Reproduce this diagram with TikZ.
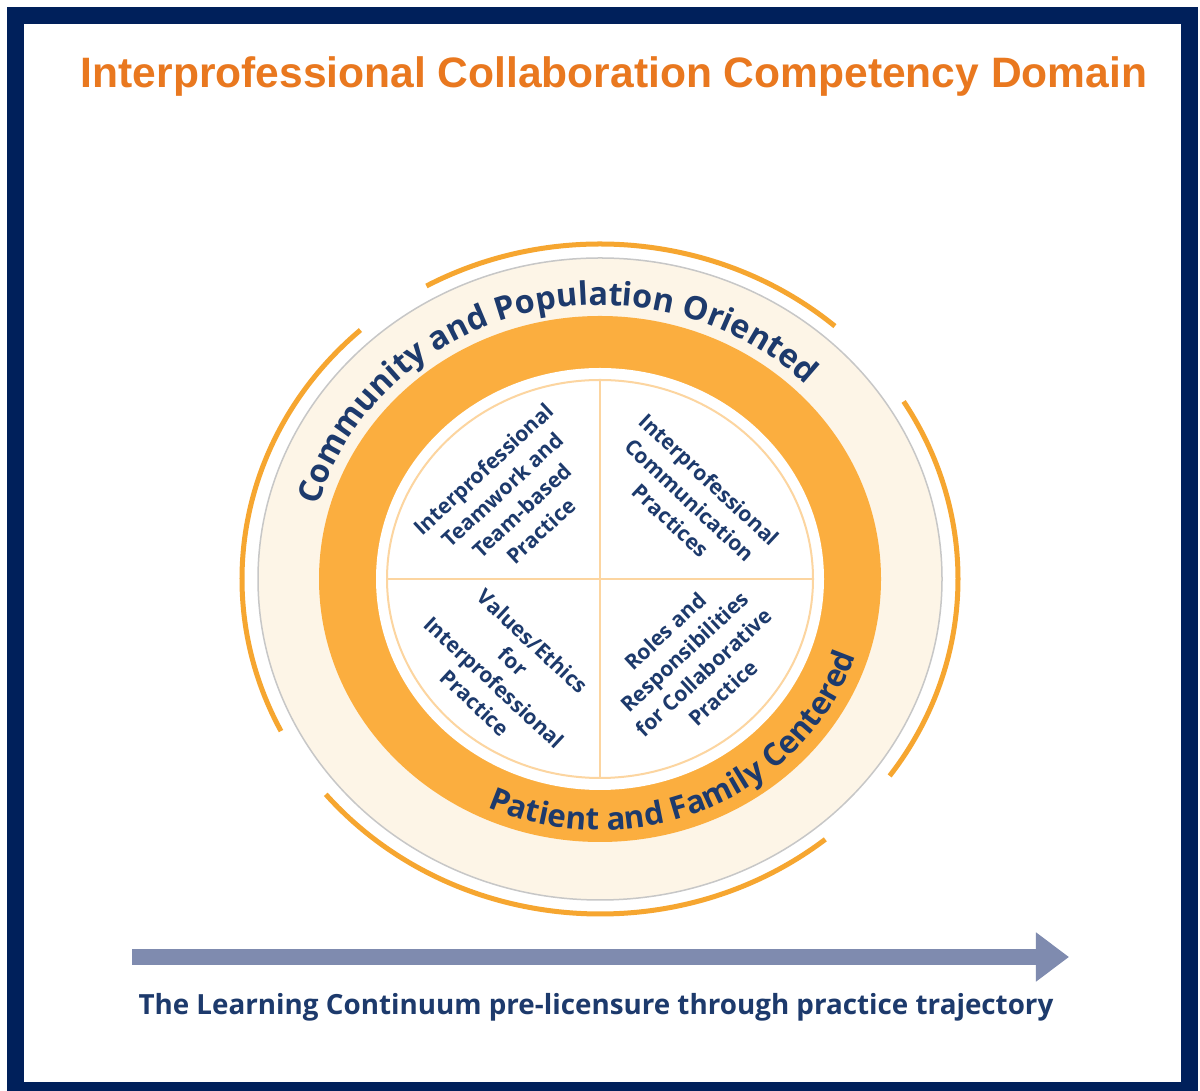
\documentclass[tikz,border=0pt]{standalone}
\usepackage{fontspec}
\setmainfont{Open Sans}
\newfontfamily\titlefont{Liberation Sans}
\usetikzlibrary{arrows.meta,decorations.text}
\definecolor{navy}{HTML}{00205B}
\definecolor{ipecorange}{HTML}{E9781F}
\definecolor{bandorange}{HTML}{FBAE3F}
\definecolor{arcorange}{HTML}{F6A630}
\definecolor{cream}{HTML}{FDF5E7}
\definecolor{thinorange}{HTML}{FCD5A0}
\definecolor{inktext}{HTML}{1D3A6C}
\definecolor{trackblue}{HTML}{7F8BAF}

\begin{document}
\begin{tikzpicture}[x=0.01cm,y=0.01cm]
\tikzstyle{quad}=[text=inktext,align=center,font=\fontsize{6}{8}\selectfont\bfseries,inner sep=0pt]
\tikzstyle{outarc}=[draw=arcorange,line width=0.05cm]
\tikzstyle{ringtext}=[decorate,decoration={text along path,text align=center,text color=inktext}]
  \useasboundingbox (0,0) rectangle (1200,1091);
  \fill[navy] (7,0) rectangle (1198,1084);
  \fill[white] (24,9) rectangle (1181,1067);
  \node[anchor=base,text=ipecorange,font=\titlefont\fontsize{12.1}{14}\selectfont\bfseries](title) at (614,1003){Interprofessional Collaboration Competency Domain};
  \coordinate (c) at (600,512);
  \filldraw[fill=cream,draw=black!22,line width=0.015cm] (c) ellipse[x radius=342,y radius=321];
  \fill[bandorange] (c) ellipse[x radius=281,y radius=263];
  \fill[white] (c) ellipse[x radius=224,y radius=211];
  \draw[thinorange,line width=0.02cm] (c) ellipse[x radius=213,y radius=199];
  \coordinate (q-top) at (600,711);
  \coordinate (q-bottom) at (600,313);
  \coordinate (q-left) at (387,512);
  \coordinate (q-right) at (813,512);
  \draw[thinorange,line width=0.02cm] (q-top)--(q-bottom);
  \draw[thinorange,line width=0.02cm] (q-left)--(q-right);
  \draw[outarc] (c) ++(49:358 and 335) arc[start angle=49,end angle=119,x radius=358,y radius=335];
  \draw[outarc] (c) ++(132:358 and 335) arc[start angle=132,end angle=207,x radius=358,y radius=335];
  \draw[outarc] (c) ++(220:358 and 335) arc[start angle=220,end angle=309,x radius=358,y radius=335];
  \draw[outarc] (c) ++(-36:358 and 335) arc[start angle=-36,end angle=32,x radius=358,y radius=335];
  \path[ringtext,decoration={text={|\fontsize{9.2}{11}\selectfont\bfseries|Community and Population Oriented}}] (c) ++(175:292 and 274) arc[start angle=175,end angle=35,x radius=292,y radius=274];
  \path[ringtext,decoration={text={|\fontsize{8.9}{11}\selectfont\bfseries|Patient and Family Centered}}] (c) ++(234:268 and 251) arc[start angle=234,end angle=354,x radius=268,y radius=251];
  \node[quad,rotate=43](team) at (512,591){Interprofessional\\Teamwork and\\Team-based\\Practice};
  \node[quad,rotate=-43](comm) at (690,591){Interprofessional\\Communication\\Practices};
  \node[quad,rotate=-43](values) at (504,419){Values/Ethics\\for\\Interprofessional\\Practice};
  \node[quad,rotate=43](roles) at (694,429){Roles and\\Responsibilities\\for Collaborative\\Practice};
  \coordinate (track-start) at (132,134);
  \coordinate (track-end) at (1069,134);
  \draw[trackblue,line width=0.16cm,-{Triangle[length=0.33cm,width=0.47cm]}] (track-start)--(track-end);
  \node[anchor=base,text=inktext,font=\fontsize{7.9}{9}\selectfont\bfseries](caption) at (596,76){The Learning Continuum pre-licensure through practice trajectory};
\end{tikzpicture}
\end{document}
